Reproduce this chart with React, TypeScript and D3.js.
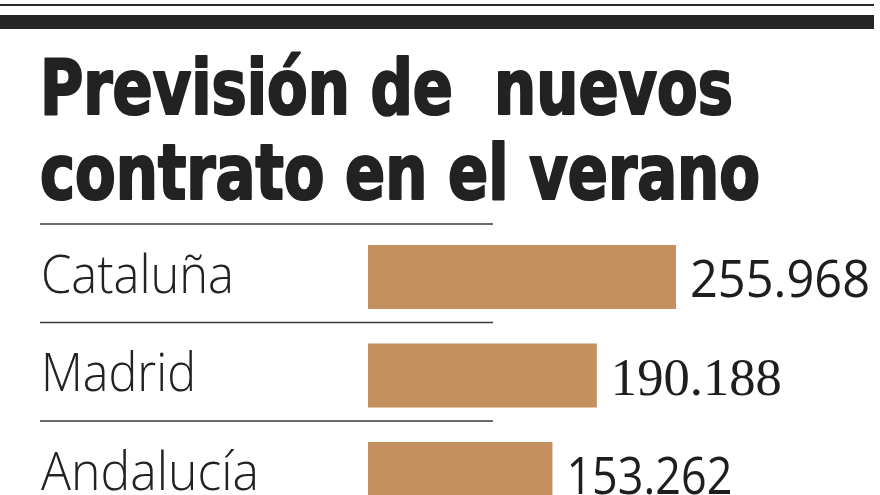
import React from "react";
import * as d3 from "d3";

const titleLines = ["Previsión de  nuevos", "contrato en el verano"];
const categories = ["Cataluña", "Madrid", "Andalucía"];
const values = [255968, 190188, 153262];
const valueLabels = ["255.968", "190.188", "153.262"];

const W = 880;
const H = 495;
const BAR_COLOR = "#c4905f";

export default function App() {
  const x = d3.scaleLinear().domain([0, 255968]).range([368, 676]);
  const y = d3
    .scaleBand<string>()
    .domain(categories)
    .range([245, 506])
    .paddingInner(0.35)
    .paddingOuter(0);
  const fmtWidthLabel = [193, 155, 218];
  const valueWidths = [180, 171, 166];
  const valueFonts = [
    "'Open Sans', 'Liberation Sans', sans-serif",
    "'Liberation Serif', 'DejaVu Serif', serif",
    "'Open Sans', 'Liberation Sans', sans-serif",
  ];

  return (
    <svg
      width={W}
      height={H}
      style={{ position: "absolute", left: 0, top: 0, background: "#fff" }}
    >
      <rect x={0} y={0} width={W} height={H} fill="#fff" />
      <rect x={0} y={4} width={874} height={2} fill="#2a2a2a" />
      <rect x={0} y={15} width={874} height={14} fill="#262626" />

      {titleLines.map((t, i) => (
        <text
          key={t}
          x={40}
          y={114 + i * 85}
          fontFamily="'DejaVu Sans Condensed', 'DejaVu Sans', sans-serif"
          fontWeight={700}
          fontSize={76}
          fill="#222"
          stroke="#222"
          strokeWidth={2.2}
          strokeLinejoin="round"
          textLength={i === 0 ? 693 : 720}
          lengthAdjust="spacingAndGlyphs"
          style={{ whiteSpace: "pre" }}
        >
          {t}
        </text>
      ))}

      {categories.map((c, i) => {
        const yt = y(c)!;
        return (
          <g key={c}>
            <line
              x1={40}
              x2={493}
              y1={yt - 21}
              y2={yt - 21}
              stroke="#3a3a3a"
              strokeWidth={1.6}
            />
            <text
              x={41}
              y={yt + 48}
              fontFamily="'Open Sans', 'Noto Sans', sans-serif"
              fontWeight={300}
              fontSize={53}
              fill="#222"
              textLength={fmtWidthLabel[i]}
              lengthAdjust="spacingAndGlyphs"
            >
              {c}
            </text>
            <rect
              x={x(0)}
              y={yt}
              width={x(values[i]) - x(0)}
              height={y.bandwidth()}
              fill={BAR_COLOR}
            />
            <text
              x={x(values[i]) + 14}
              y={yt + 52}
              fontFamily={valueFonts[i]}
              fontWeight={400}
              fontSize={52}
              fill="#1e1e1e"
              textLength={valueWidths[i]}
              lengthAdjust="spacingAndGlyphs"
            >
              {valueLabels[i]}
            </text>
          </g>
        );
      })}
    </svg>
  );
}
